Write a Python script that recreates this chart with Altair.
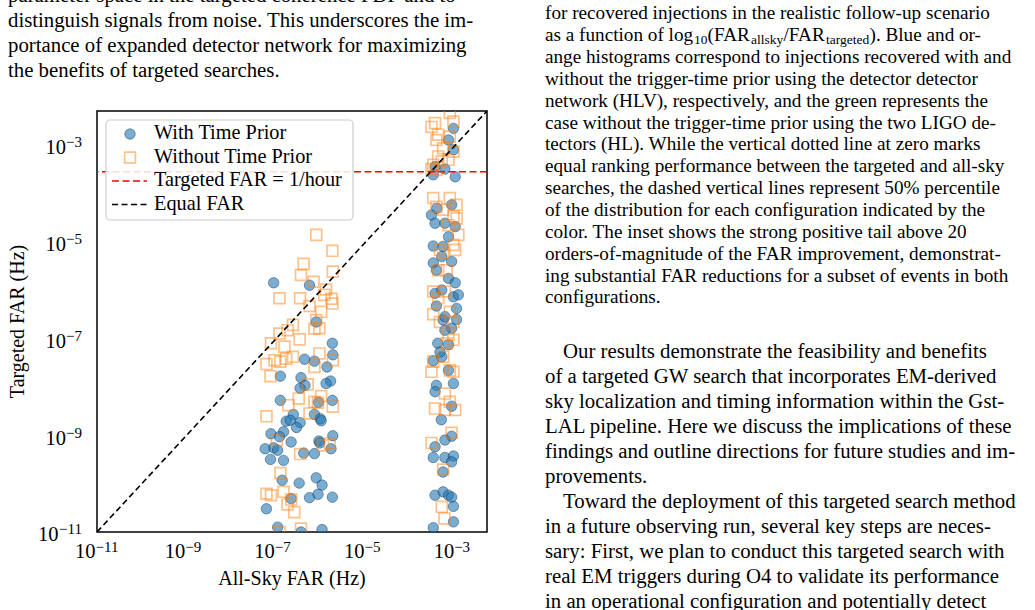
import altair as alt
import pandas as pd

FONT = "Liberation Serif"

# ---------------- data: log10 of FAR (Hz) ----------------
with_allsky_log = [
    -7.06, -6.26, -6.11, -5.75, -6.37, -6.15, -5.74, -5.87, -6.91, -6.45, -5.79, -6.36, -6.47,
    -5.89, -6.91, -5.75, -6.62, -6.78, -6.15, -6.02, -6.00, -6.47, -6.55, -6.69, -6.84, -7.12,
    -6.93, -6.67, -7.06, -7.25, -6.97, -7.13, -6.84, -6.39, -6.15, -6.05, -5.78, -5.74, -6.03,
    -6.87, -6.49, -6.11, -5.98, -6.26, -6.07, -5.75, -6.67, -7.22, -6.97, -6.45, -5.98, -6.06,
    -3.05, -3.05, -3.16, -3.46, -3.24, -3.50, -3.01, -3.09, -3.54, -3.46, -3.24, -3.01, -3.16,
    -3.50, -3.28, -3.31, -3.09, -3.50, -3.43, -3.16, -3.01, -3.46, -3.31, -3.05, -2.98, -3.43,
    -3.28, -2.98, -3.09, -3.24, -3.40, -3.16, -3.31, -3.50, -3.16, -3.05, -3.43, -3.46, -3.09,
    -3.32, -3.09, -3.24, -3.46, -3.50, -3.24, -3.05, -3.09, -3.28, -3.46, -3.28, -3.16, -3.09,
    -3.05, -3.05, -3.50, -3.42, -2.94, -3.35, -3.24,
]
with_targeted_log = [
    -5.85, -5.90, -6.66, -7.10, -7.43, -7.47, -7.34, -7.59, -7.78, -7.81, -7.88, -7.97, -8.03,
    -7.93, -8.28, -8.28, -8.57, -8.71, -8.57, -8.66, -8.70, -8.74, -8.84, -8.69, -8.93, -8.97,
    -9.03, -9.14, -9.26, -9.28, -9.31, -9.50, -9.52, -9.37, -9.38, -9.12, -9.28, -9.01, -9.16,
    -9.93, -9.99, -9.88, -10.03, -10.29, -10.22, -10.28, -10.31, -10.52, -10.90, -11.00, -10.95, -8.32,
    -2.66, -3.10, -2.90, -3.45, -3.50, -3.62, -3.66, -4.24, -4.45, -4.62, -4.62, -4.69, -4.90,
    -5.09, -5.10, -5.31, -5.41, -5.44, -5.59, -5.76, -5.85, -6.07, -6.00, -6.14, -6.38, -6.33,
    -6.62, -6.61, -6.79, -6.83, -7.10, -7.13, -7.38, -7.46, -7.66, -7.93, -7.97, -8.10, -8.40,
    -8.68, -9.02, -9.10, -9.24, -9.46, -9.46, -9.43, -9.55, -9.76, -10.24, -10.17, -10.24, -10.28,
    -10.47, -10.79, -10.91, -4.31, -6.10, -7.28, -6.55,
]
without_allsky_log = [
    -6.11, -5.75, -6.39, -6.45, -5.74, -6.17, -6.93, -6.47, -5.89, -5.93, -5.75, -5.77, -6.26,
    -6.00, -6.11, -6.04, -6.15, -6.63, -6.75, -6.93, -6.48, -7.12, -6.82, -6.63, -6.78, -7.04,
    -7.22, -6.91, -7.13, -6.04, -6.15, -5.74, -6.30, -6.50, -6.15, -6.00, -6.07, -5.74, -6.73,
    -7.22, -6.26, -6.99, -5.96, -5.81, -6.47, -6.91, -7.22, -7.12, -6.84, -6.67, -6.75, -6.60,
    -6.93, -6.45,
    -3.13, -3.54, -3.46, -3.05, -3.39, -3.13, -3.43, -3.28, -3.05, -3.39, -3.50, -3.31, -3.16,
    -3.54, -3.43, -3.50, -3.13, -2.98, -3.43, -3.28, -3.05, -2.98, -3.16, -2.94, -3.05, -3.35,
    -3.01, -3.28, -3.20, -3.39, -3.50, -3.24, -3.39, -3.50, -3.13, -3.35, -3.05, -3.16, -3.05,
    -3.20, -3.28, -3.50, -3.54, -3.05, -3.13, -3.24, -3.13, -3.46, -3.24, -3.01, -3.09, -3.54,
    -3.28, -3.31, -3.25,
]
without_targeted_log = [
    -4.86, -5.19, -5.46, -5.69, -5.62, -5.83, -6.17, -6.17, -5.99, -6.10, -6.28, -6.18, -6.33,
    -6.45, -6.62, -6.79, -6.80, -6.72, -6.83, -6.90, -7.02, -7.10, -7.17, -7.38, -7.42, -7.45,
    -7.53, -7.48, -7.78, -7.31, -7.59, -7.45, -7.95, -8.24, -8.31, -8.19, -8.33, -8.41, -8.38,
    -8.61, -8.55, -9.10, -9.21, -9.17, -9.39, -9.78, -10.21, -10.24, -10.17, -10.33, -10.43, -10.59,
    -11.00, -10.93,
    -2.34, -2.63, -2.55, -2.52, -2.79, -2.83, -2.90, -3.07, -3.14, -3.24, -3.41, -3.34, -3.31,
    -3.50, -3.52, -4.10, -4.10, -4.24, -4.28, -4.34, -4.48, -4.52, -4.66, -4.86, -5.07, -5.17,
    -5.17, -5.24, -5.59, -5.59, -6.03, -6.03, -6.17, -6.50, -6.45, -6.66, -6.66, -6.93, -7.03,
    -7.10, -7.38, -7.48, -7.69, -7.69, -7.66, -8.14, -8.31, -8.45, -8.48, -8.48, -8.95, -9.16,
    -9.71, -10.48, -10.72,
]

tick_values = [1e-11, 1e-9, 1e-7, 1e-5, 1e-3]
tick_exponents = ["\u221211", "\u22129", "\u22127", "\u22125", "\u22123"]
axis_limits = [1e-11, 5e-3]
targeted_threshold = 1.0 / 3600.0

legend_labels = ["With Time Prior", "Without Time Prior", "Targeted FAR = 1/hour", "Equal FAR"]
x_title = "All-Sky FAR (Hz)"
y_title = "Targeted FAR (Hz)"

left_text = [
    "parameter space in the targeted coherence PDF and to",
    "distinguish signals from noise. This underscores the im-",
    "portance of expanded detector network for maximizing",
    "the benefits of targeted searches.",
]
caption_text = [
    "for recovered injections in the realistic follow-up scenario",
    "",
    "ange histograms correspond to injections recovered with and",
    "without the trigger-time prior using the detector detector",
    "network (HLV), respectively, and the green represents the",
    "case without the trigger-time prior using the two LIGO de-",
    "tectors (HL). While the vertical dotted line at zero marks",
    "equal ranking performance between the targeted and all-sky",
    "searches, the dashed vertical lines represent 50% percentile",
    "of the distribution for each configuration indicated by the",
    "color.  The inset shows the strong positive tail above 20",
    "orders-of-magnitude of the FAR improvement, demonstrat-",
    "ing substantial FAR reductions for a subset of events in both",
    "configurations.",
]
caption_line2 = ["as a function of log", "10", "(FAR", "allsky", "/FAR", "targeted", ").  Blue and or-"]
caption_line2_sub = [False, True, False, True, False, True, False]
body_text = [
    "Our results demonstrate the feasibility and benefits",
    "of a targeted GW search that incorporates EM-derived",
    "sky localization and timing information within the Gst-",
    "LAL pipeline. Here we discuss the implications of these",
    "findings and outline directions for future studies and im-",
    "provements.",
    "Toward the deployment of this targeted search method",
    "in a future observing run, several key steps are neces-",
    "sary: First, we plan to conduct this targeted search with",
    "real EM triggers during O4 to validate its performance",
    "in an operational configuration and potentially detect",
]

# ---------------- frames ----------------
df_with = pd.DataFrame({
    "allsky": [10 ** v for v in with_allsky_log],
    "targeted": [10 ** v for v in with_targeted_log],
})
df_without = pd.DataFrame({
    "allsky": [10 ** v for v in without_allsky_log],
    "targeted": [10 ** v for v in without_targeted_log],
})
df_ticks = pd.DataFrame({"value": tick_values, "exp": tick_exponents})
df_diag = pd.DataFrame({"v": axis_limits})
df_thr = pd.DataFrame({"v": [targeted_threshold]})

W, H = 390, 421
xs = alt.Scale(type="log", domain=axis_limits, nice=False)
ys = alt.Scale(type="log", domain=axis_limits, nice=False)

common_axis = dict(values=tick_values, grid=True, gridColor="#e6e6e6", gridWidth=0.9,
                   labels=False, ticks=True, tickSize=6, tickColor="black", tickWidth=1.2,
                   domain=False, title=None)

BLUE = "#1f77b4"
ORANGE = "#ff7f0e"
C_SIZE = 110
S_SIZE = 118

circles = alt.Chart(df_with).mark_point(
    shape="circle", filled=True, size=C_SIZE, fill=BLUE, fillOpacity=0.6,
    stroke="#0b2a44", strokeOpacity=0.6, strokeWidth=0.7, clip=True,
).encode(
    x=alt.X("allsky:Q", scale=xs, axis=alt.Axis(**common_axis)),
    y=alt.Y("targeted:Q", scale=ys, axis=alt.Axis(**common_axis)),
)

squares = alt.Chart(df_without).mark_point(
    shape="square", filled=False, size=S_SIZE, stroke=ORANGE, strokeOpacity=0.68,
    strokeWidth=1.7, clip=True,
).encode(
    x=alt.X("allsky:Q", scale=xs, axis=None),
    y=alt.Y("targeted:Q", scale=ys, axis=None),
)

thr = alt.Chart(df_thr).mark_rule(color="#ff0000", strokeWidth=1.6, strokeDash=[7, 3.5]).encode(
    y=alt.Y("v:Q", scale=ys, axis=None)
)

diag = alt.Chart(df_diag).mark_line(color="black", strokeWidth=1.6, strokeDash=[6, 3.5], clip=True).encode(
    x=alt.X("v:Q", scale=xs, axis=None),
    y=alt.Y("v:Q", scale=ys, axis=None),
)

# ---------------- legend (drawn as marks) ----------------
leg_box = alt.Chart(df_thr).mark_rect(
    cornerRadius=4, fill="white", fillOpacity=0.85, stroke="#cccccc", strokeWidth=1.2
).encode(x=alt.value(9), x2=alt.value(256), y=alt.value(9), y2=alt.value(109))

leg_circle = alt.Chart(df_thr).mark_point(
    shape="circle", filled=True, size=C_SIZE, fill=BLUE, fillOpacity=0.6,
    stroke="#0b2a44", strokeOpacity=0.6, strokeWidth=0.7,
).encode(x=alt.value(33), y=alt.value(23))
leg_square = alt.Chart(df_thr).mark_point(
    shape="square", filled=False, size=S_SIZE, stroke=ORANGE, strokeOpacity=0.68, strokeWidth=1.7,
).encode(x=alt.value(33), y=alt.value(46.5))
leg_red = alt.Chart(df_thr).mark_rule(color="#ff0000", strokeWidth=1.6, strokeDash=[7, 3.5]).encode(
    x=alt.value(15), x2=alt.value(50), y=alt.value(70))
leg_black = alt.Chart(df_thr).mark_rule(color="black", strokeWidth=1.6, strokeDash=[6, 3.5]).encode(
    x=alt.value(15), x2=alt.value(50), y=alt.value(93.5))

df_leg = pd.DataFrame({"label": legend_labels, "idx": list(range(len(legend_labels)))})
leg_text = alt.Chart(df_leg).mark_text(
    align="left", baseline="middle", font=FONT, fontSize=20.3, color="black"
).transform_calculate(py="22 + datum.idx * 23.7").encode(
    x=alt.value(57), y=alt.Y("py:Q", scale=None, axis=None), text="label:N"
)

# ---------------- tick labels (10 with superscript exponent) ----------------
BASE_FS = 20.5
EXP_FS = 15
xt_base = alt.Chart(df_ticks).mark_text(
    align="right", baseline="alphabetic", font=FONT, fontSize=BASE_FS, dx=-1.5, color="black"
).encode(x=alt.X("value:Q", scale=xs, axis=None), y=alt.value(H + 25.5), text=alt.value("10"))
xt_exp = alt.Chart(df_ticks).mark_text(
    align="left", baseline="alphabetic", font=FONT, fontSize=EXP_FS, dx=-1.5, color="black"
).encode(x=alt.X("value:Q", scale=xs, axis=None), y=alt.value(H + 19.5), text="exp:N")

yt_exp = alt.Chart(df_ticks).mark_text(
    align="right", baseline="alphabetic", font=FONT, fontSize=EXP_FS, dy=2.4, color="black"
).encode(x=alt.value(-15), y=alt.Y("value:Q", scale=ys, axis=None), text="exp:N")
yt_base = alt.Chart(df_ticks).mark_text(
    align="right", baseline="alphabetic", font=FONT, fontSize=BASE_FS, dy=9.4, color="black"
).transform_calculate(
    lx="-15 - (8.46 + 7.5 * (length(datum.exp) - 1))"
).encode(x=alt.X("lx:Q", scale=None, axis=None), y=alt.Y("value:Q", scale=ys, axis=None),
         text=alt.value("10"))

x_t = alt.Chart(df_thr).mark_text(
    align="center", baseline="middle", font=FONT, fontSize=20, color="black"
).encode(x=alt.value(W / 2), y=alt.value(H + 47), text=alt.value(x_title))
y_t = alt.Chart(df_thr).mark_text(
    align="center", baseline="middle", font=FONT, fontSize=20, angle=270, color="black"
).encode(x=alt.value(-79), y=alt.value(H / 2), text=alt.value(y_title))

# ---------------- surrounding page text ----------------
OX, OY = 97, 111  # plot origin on the page
BODY_FS = 20.8
CAP_FS = 19.2


def text_block(lines, x0, y0, lead, size, indent_rows=()):
    df = pd.DataFrame({"t": lines, "idx": list(range(len(lines)))})
    ind = " || ".join(f"datum.idx == {i}" for i in indent_rows) or "false"
    return alt.Chart(df).mark_text(
        align="left", baseline="middle", font=FONT, fontSize=size, color="black"
    ).transform_calculate(
        py=f"{y0 - OY} + datum.idx * {lead}",
        px=f"{x0 - OX} + (({ind}) ? 18 : 0)",
    ).encode(x=alt.X("px:Q", scale=None, axis=None), y=alt.Y("py:Q", scale=None, axis=None), text="t:N")


left_block = text_block(left_text, 8, -4, 25, BODY_FS)
caption_block = text_block(caption_text, 545, 13.3, 21.85, CAP_FS)
body_block = text_block(body_text, 545, 352, 25, BODY_FS, indent_rows=(0, 6))

# caption line 2 with subscripts: segments follow one another
SUB_FS = 13.5
seg_x = [545, 694, 707.5, 751, 783.5, 826, 869.5]
df_seg = pd.DataFrame({"t": caption_line2, "sub": caption_line2_sub, "sx": seg_x})
seg_main = alt.Chart(df_seg).transform_filter("!datum.sub").transform_calculate(
    px=f"datum.sx - {OX}").mark_text(
    align="left", baseline="middle", font=FONT, fontSize=CAP_FS, color="black"
).encode(x=alt.X("px:Q", scale=None, axis=None), y=alt.value(35.15 - OY), text="t:N")
seg_sub = alt.Chart(df_seg).transform_filter("datum.sub").transform_calculate(
    px=f"datum.sx - {OX}").mark_text(
    align="left", baseline="middle", font=FONT, fontSize=SUB_FS, color="black"
).encode(x=alt.X("px:Q", scale=None, axis=None), y=alt.value(40 - OY), text="t:N")

chart = alt.layer(
    circles, squares, thr, diag,
    leg_box, leg_circle, leg_square, leg_red, leg_black, leg_text,
    xt_base, xt_exp, yt_exp, yt_base, x_t, y_t,
    left_block, caption_block, body_block, seg_main, seg_sub,
).properties(
    width=W, height=H,
    autosize=alt.AutoSizeParams(type="none"),
    padding={"left": OX, "top": OY, "right": 1035 - OX - W, "bottom": 610 - OY - H},
    background="white",
).configure_view(stroke="black", strokeWidth=1.5)

chart.save("out.html", embed_options={"renderer": "svg", "actions": False})
